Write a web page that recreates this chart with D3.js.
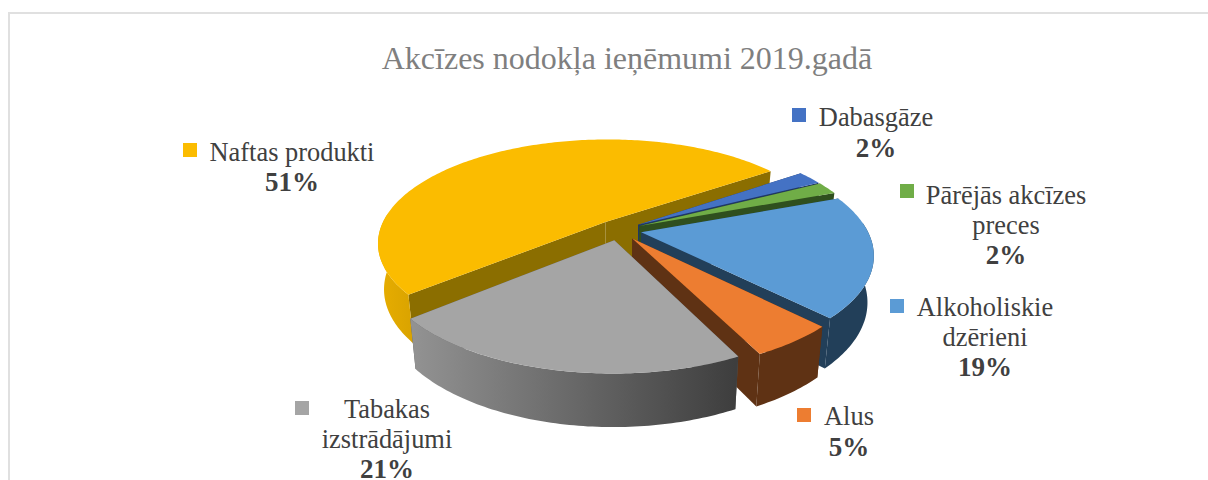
<!DOCTYPE html>
<html><head><meta charset="utf-8">
<script src="https://cdn.jsdelivr.net/npm/d3@7"></script>
<style>html,body{margin:0;padding:0;background:#fff}svg{display:block}</style></head>
<body><svg id="c" width="1208" height="480"></svg>
<script>
const chartTitle = "Akcīzes nodokļa ieņēmumi 2019.gadā";
const categories = ["Naftas produkti","Dabasgāze","Pārējās akcīzes preces","Alkoholiskie dzērieni","Alus","Tabakas izstrādājumi"];
const shares = [51.4,2.1,1.9,18.4,5,21.2];
const percentLabels = ["51%","2%","2%","19%","5%","21%"];
const labelLines = [["Naftas produkti"],["Dabasgāze"],["Pārējās akcīzes","preces"],["Alkoholiskie","dzērieni"],["Alus"],["Tabakas","izstrādājumi"]];
const topColors = ["#FBBC00","#4472C4","#70AD47","#5B9BD5","#ED7D31","#A5A5A5"];
const faceColors = ["#8B6E00","#203864","#2F4F1E","#223F59","#5F3214","#5a5a5a"];
const labelPlace = [
 {cx:292,y0:161,kx:183,ky:143,gap:30},
 {cx:876,y0:126,kx:792,ky:108,gap:31},
 {cx:1006,y0:204,kx:900,ky:184,gap:30},
 {cx:985,y0:316,kx:890,ky:299,gap:30},
 {cx:849,y0:425,kx:797,ky:408,gap:31},
 {cx:387,y0:418,kx:295,ky:401,gap:30}
];
const svg = d3.select("#c");
const Cx=619,Cy=230,Rx=226,Ry=102,p=0.2,explode=0.1;
const depthBase=45;
const F="'Liberation Serif','Times New Roman',serif";
const startAngle=230*Math.PI/180;
const pie=d3.pie().value(d=>d).sort(null).startAngle(startAngle).endAngle(startAngle+2*Math.PI);
const arcs=pie(shares);

const defs=svg.append("defs");
function grad(id,x1,x2,c1,c2){const g=defs.append("linearGradient").attr("id",id).attr("gradientUnits","userSpaceOnUse").attr("x1",x1).attr("x2",x2).attr("y1",0).attr("y2",0);
 g.append("stop").attr("offset",0).attr("stop-color",c1);g.append("stop").attr("offset",1).attr("stop-color",c2);}
grad("gGray",414,735,"#929292","#3e3e3e");
grad("gYel",377,414,"#E8AE00","#D9A300");
const wallFill=["url(#gYel)","#203864","#2F4F1E","#223F59","#5F3214","url(#gGray)"];

const line=d3.line();
function proj(u,v,bottom){const s=1/(1-p*v);
 if(!bottom)return [Cx+Rx*u*s,Cy+Ry*v*s];
 return [Cx+0.975*Rx*u*s,Cy+depthBase+1.06*Ry*v*s];}
svg.append("rect").attr("x",9).attr("y",13).attr("width",1300).attr("height",600).attr("fill","#fff").attr("stroke","#e0e0e0").attr("stroke-width",2);
svg.append("text").attr("x",627).attr("y",69).attr("text-anchor","middle").attr("font-family",F).attr("font-size",32).attr("fill","#7f7f7f").text(chartTitle);

function point(a,r,off,bottom){return proj(off[0]+r*Math.sin(a),off[1]-r*Math.cos(a),bottom);}
arcs.forEach((d,i)=>{
 const mid=(d.startAngle+d.endAngle)/2;
 const off=[explode*Math.sin(mid),-explode*Math.cos(mid)];
 const n=Math.max(4,Math.round((d.endAngle-d.startAngle)*60));
 const angles=d3.range(n+1).map(k=>d.startAngle+(d.endAngle-d.startAngle)*k/n);
 const top=angles.map(a=>point(a,1,off,false));
 const frontAngles=angles.filter(a=>-Math.cos(a)>=-0.1);
 const at=proj(off[0],off[1],false),ab=proj(off[0],off[1],true);
 const g=svg.append("g");
 g.append("path").attr("d",line([at,top[0],point(angles[0],1,off,true),ab])+"Z").attr("fill",faceColors[i]);
 g.append("path").attr("d",line([at,top[n],point(angles[n],1,off,true),ab])+"Z").attr("fill",faceColors[i]);
 if(frontAngles.length>1){
  const wt=frontAngles.map(a=>point(a,1,off,false)),wb=frontAngles.map(a=>point(a,1,off,true));
  g.append("path").attr("d",line(wt.concat(wb.slice().reverse()))+"Z").attr("fill",wallFill[i]);
 }
 g.append("path").attr("d",line([at].concat(top))+"Z").attr("fill",topColors[i]);
});
labelPlace.forEach((l,i)=>{
 svg.append("rect").attr("x",l.kx).attr("y",l.ky).attr("width",14).attr("height",14).attr("fill",topColors[i]);
 const lines=labelLines[i];
 const t=svg.append("text").attr("font-family",F).attr("font-size",26.4).attr("fill","#404040").attr("text-anchor","middle");
 lines.forEach((s,j)=>t.append("tspan").attr("x",l.cx).attr("y",l.y0+j*l.gap).text(s));
 t.append("tspan").attr("x",l.cx).attr("y",l.y0+lines.length*l.gap).attr("font-weight","bold").attr("font-size",27).text(percentLabels[i]);
});
</script></body></html>
